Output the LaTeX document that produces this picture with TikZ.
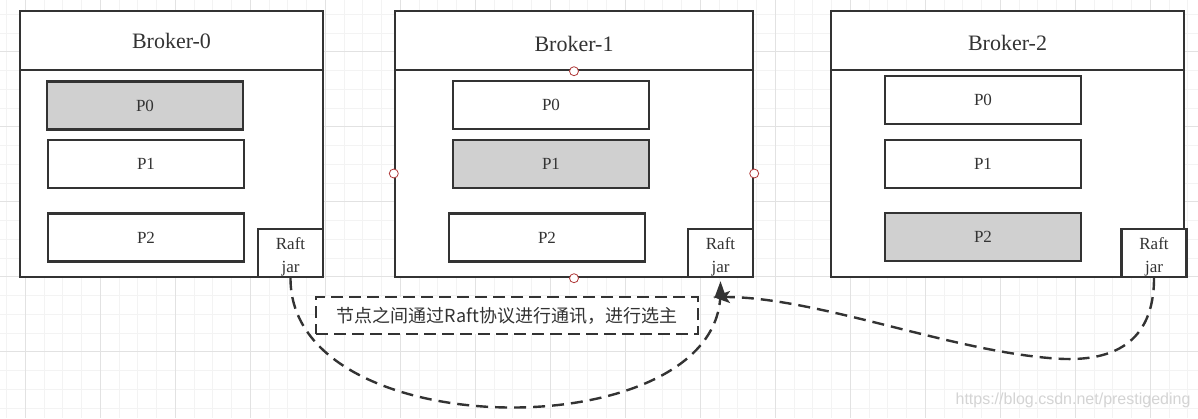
\documentclass[tikz,border=0pt]{standalone}
\usepackage{fontspec}
\setmainfont{Liberation Serif}
\newfontfamily\cjk{Noto Sans CJK SC}
\newfontfamily\wmfont{Liberation Sans}
\usetikzlibrary{arrows.meta}
\definecolor{linec}{HTML}{333333}
\definecolor{leadfill}{HTML}{D0D0D0}
\definecolor{gridminor}{HTML}{F3F3F3}
\definecolor{gridmajor}{HTML}{E2E2E2}
\definecolor{ptred}{HTML}{B03A3A}
\definecolor{wm}{HTML}{D4D4D4}
\newcommand{\lowerby}[2]{\raisebox{-#1}[\height][\depth]{#2}}
\newcommand{\twolines}[2]{\lowerby{3pt}{\begin{tabular}{@{}c@{}}#1\\#2\end{tabular}}}
\begin{document}
\begin{tikzpicture}[x=1pt,y=-1pt,
  frame/.style={draw=linec, line width=2.4pt, fill=white, inner sep=0pt, text=linec},
  header/.style={frame, font=\fontsize{22}{26}\selectfont},
  body/.style={frame},
  part/.style={frame, minimum width=196pt, minimum height=48pt, font=\fontsize{17}{20}\selectfont},
  lead/.style={part, fill=leadfill},
  raft/.style={frame, minimum width=65pt, minimum height=48pt, align=center, font=\fontsize{17}{23}\selectfont},
  note/.style={draw=linec, line width=2.4pt, dash pattern=on 12pt off 6pt, fill=white, minimum width=382pt, minimum height=37pt, inner sep=0pt, font=\cjk\fontsize{18}{20}\selectfont, text=linec},
  conn/.style={draw=linec, line width=2.4pt, dash pattern=on 12pt off 7pt, -{Stealth[length=17pt,width=12pt,inset=4pt]}},
  handle/.style={circle, draw=ptred, fill=white, line width=0.8pt, minimum size=9pt, inner sep=0pt},
  wmark/.style={text=wm, font=\wmfont\fontsize{16}{18}\selectfont},
]
\useasboundingbox (0,0) rectangle (1198,418);
\fill[white] (0,0) rectangle (1198,418);
% grid
\foreach \i in {0,...,63} \draw[gridminor, line width=1pt] ({6.55+18.75*\i},0) -- ({6.55+18.75*\i},418);
\foreach \i in {0,...,22} \draw[gridminor, line width=1pt] (0,{14.45+18.75*\i}) -- (1198,{14.45+18.75*\i});
\foreach \i in {0,...,15} \draw[gridmajor, line width=1pt] ({25.3+75*\i},0) -- ({25.3+75*\i},418);
\foreach \i in {0,...,4} \draw[gridmajor, line width=1pt] (0,{51.7+75*\i}) -- (1198,{51.7+75*\i});

% Broker-0
\node[body, minimum width=303pt, minimum height=207pt] (b0b) at (171.5,173.5) {};
\node[header, minimum width=303pt, minimum height=59pt] (b0h) at (171.5,40.5) {Broker-0};
\node[lead] (b0p0) at (145,105.5) {P0};
\node[part] (b0p1) at (146,164) {P1};
\node[part] (b0p2) at (146,237.5) {P2};
\node[raft] (r0) at (290.5,253) {\twolines{Raft}{jar}};

% Broker-1
\node[body, minimum width=358pt, minimum height=207pt] (b1b) at (574,173.5) {};
\node[header, minimum width=358pt, minimum height=59pt] (b1h) at (574,40.5) {\lowerby{3pt}{Broker-1}};
\node[part] (b1p0) at (551,105) {P0};
\node[lead] (b1p1) at (551,164) {P1};
\node[part] (b1p2) at (547,237.5) {P2};
\node[raft] (r1) at (720.5,253) {\twolines{Raft}{jar}};

% Broker-2
\node[body, minimum width=353pt, minimum height=207pt] (b2b) at (1007.5,173.5) {};
\node[header, minimum width=353pt, minimum height=59pt] (b2h) at (1007.5,40.5) {\lowerby{2pt}{Broker-2}};
\node[part] (b2p0) at (983,100) {P0};
\node[part] (b2p1) at (983,164) {P1};
\node[lead] (b2p2) at (983,237) {P2};
\node[raft] (r2) at (1154,253) {\twolines{Raft}{jar}};

% selection handles on Broker-1
\node[handle] (h1) at (b1h.south) {};
\node[handle] (h2) at (b1b.west) {};
\node[handle] (h3) at (b1b.east) {};
\node[handle] (h4) at (b1b.south) {};

% note
\node[note] (note) at (507,315.5) {节点之间通过Raft协议进行通讯，进行选主};

% connectors
\coordinate (e2) at (713,297);
\draw[conn] (r0.south) .. controls (290,448) and (719,448) .. ([yshift=-3pt]r1.south);
\draw[conn] (r2.south) .. controls (1154,345) and (1110,360) .. (1065,359)
   .. controls (960,355) and (820,297) .. (e2);

% watermark
\node[wmark] (wm) at (1073,400) {https://blog.csdn.net/prestigeding};
\end{tikzpicture}
\end{document}
